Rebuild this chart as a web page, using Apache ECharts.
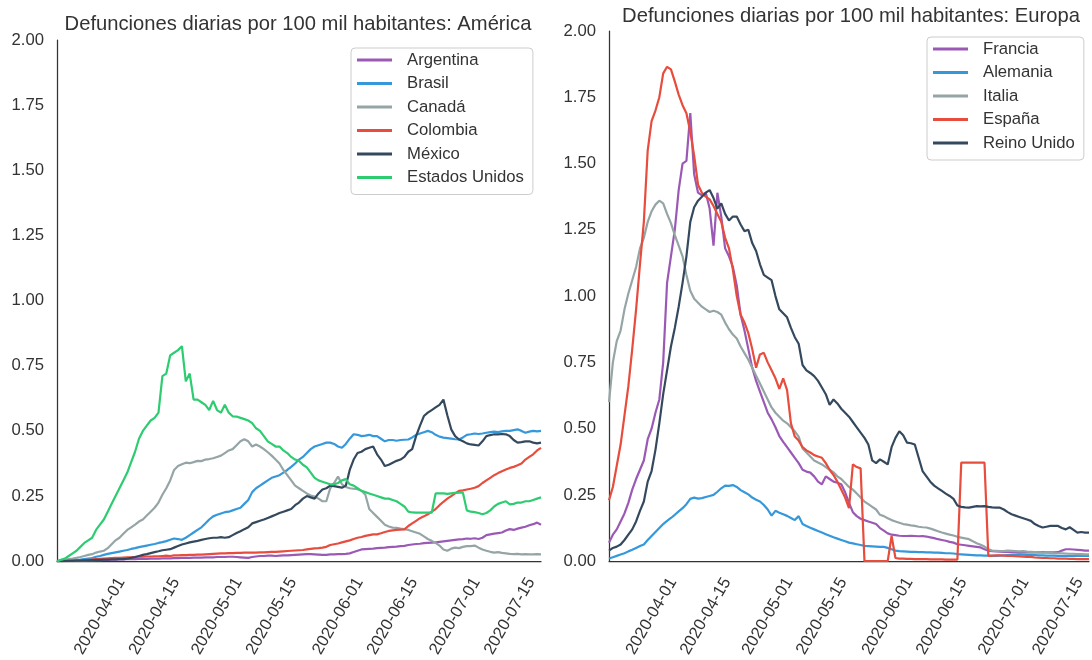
<!DOCTYPE html>
<html>
<head>
<meta charset="utf-8">
<script src="https://cdn.jsdelivr.net/npm/echarts@6/dist/echarts.min.js"></script>
<style>
html,body{margin:0;padding:0;background:#fff;}
#c{width:1092px;height:660px;}
</style>
</head>
<body>
<div id="c"></div>
<script>
// Daily dates 2020-03-21 .. 2020-07-23 (category labels)
const dates = [];
for (let t = Date.UTC(2020, 2, 21); t <= Date.UTC(2020, 6, 23); t += 86400000) {
  dates.push(new Date(t).toISOString().slice(0, 10));
}
const tickLabels = ['2020-04-01','2020-04-15','2020-05-01','2020-05-15','2020-06-01','2020-06-15','2020-07-01','2020-07-15'];
const yTicks = [0, 0.25, 0.5, 0.75, 1, 1.25, 1.5, 1.75, 2];

// América
const argentina = [
0,0,0.001,0.001,0.001,0.002,0.002,0.002,0.003,0.003,
0.004,0.004,0.005,0.005,0.006,0.006,0.007,0.007,0.008,
0.008,0.008,0.009,0.009,0.009,0.01,0.01,0.01,0.011,0.011,
0.011,0.012,0.012,0.013,0.013,0.013,0.014,0.014,0.014,
0.015,0.015,0.015,0.016,0.016,0.016,0.017,0.017,0.016,0.015,
0.014,0.013,0.016,0.018,0.02,0.02,0.021,0.021,0.02,
0.021,0.022,0.022,0.023,0.024,0.025,0.026,0.027,0.027,0.026,
0.025,0.024,0.024,0.026,0.026,0.027,0.027,0.028,0.03,
0.035,0.04,0.045,0.046,0.047,0.048,0.05,0.051,0.052,0.054,
0.055,0.056,0.058,0.059,0.062,0.064,0.066,0.067,0.069,
0.07,0.071,0.072,0.074,0.076,0.078,0.08,0.082,0.084,0.085,
0.087,0.086,0.088,0.085,0.09,0.10,0.103,0.106,0.108,
0.11,0.118,0.123,0.12,0.125,0.129,0.132,0.138,0.142,0.148,0.14];
const brasil = [
0,0.001,0.002,0.003,0.004,0.005,0.006,0.008,0.01,0.012,
0.017,0.02,0.024,0.028,0.031,0.034,0.037,0.04,0.043,
0.047,0.05,0.054,0.057,0.06,0.063,0.066,0.07,0.073,0.077,
0.082,0.087,0.085,0.082,0.09,0.10,0.11,0.12,0.13,
0.145,0.16,0.172,0.178,0.183,0.188,0.19,0.195,0.20,0.205,
0.22,0.235,0.265,0.28,0.29,0.30,0.31,0.32,0.325,
0.33,0.34,0.35,0.362,0.375,0.39,0.40,0.415,0.43,0.44,
0.445,0.45,0.455,0.455,0.45,0.44,0.435,0.45,0.47,
0.487,0.485,0.48,0.482,0.485,0.48,0.48,0.47,0.46,0.465,
0.465,0.462,0.465,0.466,0.467,0.475,0.485,0.49,0.495,
0.50,0.495,0.485,0.478,0.474,0.472,0.47,0.468,0.467,0.475,
0.485,0.487,0.49,0.488,0.49,0.493,0.495,0.497,0.495,
0.498,0.50,0.50,0.503,0.506,0.50,0.493,0.497,0.50,0.498,0.50];
const canada = [
0,0.003,0.005,0.008,0.01,0.013,0.016,0.02,0.024,0.027,
0.033,0.037,0.04,0.05,0.065,0.08,0.09,0.105,0.12,
0.13,0.14,0.152,0.16,0.175,0.19,0.205,0.225,0.255,0.28,
0.31,0.35,0.365,0.372,0.378,0.376,0.38,0.385,0.384,
0.39,0.392,0.395,0.40,0.405,0.415,0.425,0.43,0.445,0.46,
0.468,0.46,0.44,0.448,0.44,0.43,0.418,0.405,0.39,
0.375,0.35,0.33,0.31,0.29,0.28,0.27,0.26,0.252,0.248,
0.24,0.23,0.23,0.28,0.30,0.325,0.295,0.285,0.28,
0.278,0.276,0.27,0.255,0.2,0.185,0.17,0.155,0.14,0.133,
0.129,0.128,0.125,0.123,0.12,0.115,0.11,0.105,0.095,
0.085,0.078,0.07,0.06,0.045,0.04,0.048,0.052,0.05,0.055,
0.058,0.058,0.06,0.052,0.045,0.04,0.036,0.033,0.035,
0.032,0.03,0.028,0.027,0.028,0.026,0.027,0.026,0.026,0.027,0.026];
const colombia = [
0,0.001,0.001,0.002,0.002,0.003,0.003,0.004,0.005,0.006,
0.008,0.009,0.01,0.011,0.012,0.013,0.013,0.014,0.015,
0.015,0.016,0.017,0.017,0.018,0.018,0.019,0.019,0.02,0.021,
0.02,0.022,0.022,0.023,0.023,0.024,0.024,0.025,0.025,
0.026,0.027,0.028,0.029,0.03,0.03,0.031,0.031,0.032,0.032,
0.033,0.033,0.033,0.033,0.034,0.034,0.035,0.036,0.036,
0.037,0.038,0.039,0.04,0.041,0.042,0.043,0.045,0.047,0.049,
0.05,0.052,0.055,0.062,0.065,0.068,0.072,0.076,0.08,
0.085,0.09,0.093,0.097,0.10,0.103,0.103,0.107,0.112,0.116,
0.118,0.12,0.121,0.122,0.135,0.145,0.155,0.165,0.172,
0.18,0.19,0.20,0.215,0.228,0.24,0.25,0.26,0.27,0.272,
0.275,0.278,0.282,0.288,0.30,0.31,0.32,0.33,0.338,
0.345,0.352,0.358,0.362,0.368,0.375,0.39,0.40,0.41,0.425,0.435];
const mexico = [
0,0,0,0.001,0.001,0.002,0.002,0.003,0.003,0.004,
0.005,0.005,0.006,0.006,0.007,0.007,0.008,0.008,0.01,
0.013,0.016,0.02,0.024,0.027,0.031,0.035,0.038,0.042,0.044,
0.046,0.052,0.058,0.064,0.068,0.072,0.075,0.078,0.082,
0.085,0.088,0.09,0.09,0.092,0.09,0.092,0.10,0.108,0.115,
0.123,0.13,0.145,0.15,0.155,0.16,0.166,0.172,0.178,
0.185,0.19,0.195,0.20,0.215,0.225,0.24,0.25,0.245,0.24,
0.26,0.275,0.28,0.29,0.288,0.285,0.282,0.29,0.35,
0.39,0.415,0.42,0.43,0.435,0.44,0.41,0.39,0.365,0.37,
0.378,0.385,0.39,0.40,0.42,0.43,0.48,0.52,0.557,
0.57,0.58,0.59,0.60,0.62,0.56,0.506,0.48,0.467,0.46,
0.452,0.448,0.446,0.444,0.46,0.48,0.484,0.487,0.487,
0.488,0.487,0.48,0.465,0.455,0.457,0.46,0.46,0.455,0.452,0.455];
const estadosUnidos = [
0,0.005,0.01,0.02,0.03,0.04,0.055,0.07,0.08,0.09,
0.12,0.14,0.16,0.19,0.22,0.25,0.28,0.31,0.34,
0.38,0.42,0.47,0.50,0.52,0.54,0.55,0.57,0.71,0.72,
0.79,0.80,0.81,0.825,0.69,0.72,0.62,0.62,0.61,
0.60,0.58,0.615,0.58,0.57,0.60,0.57,0.556,0.555,0.55,
0.545,0.54,0.53,0.51,0.50,0.48,0.46,0.45,0.44,
0.44,0.425,0.415,0.40,0.39,0.385,0.37,0.36,0.34,0.32,
0.31,0.305,0.30,0.295,0.295,0.30,0.31,0.315,0.295,
0.29,0.28,0.27,0.265,0.26,0.255,0.25,0.245,0.24,0.24,
0.235,0.23,0.22,0.21,0.19,0.187,0.186,0.186,0.186,
0.186,0.186,0.26,0.26,0.26,0.258,0.26,0.262,0.263,0.263,
0.195,0.19,0.188,0.185,0.18,0.185,0.195,0.21,0.22,
0.225,0.23,0.218,0.22,0.225,0.225,0.23,0.23,0.235,0.24,0.245];

// Europa
const francia = [
0.07,0.10,0.12,0.15,0.18,0.22,0.27,0.31,0.345,0.38,
0.46,0.50,0.56,0.61,0.75,1.05,1.15,1.25,1.40,
1.50,1.51,1.69,1.46,1.39,1.38,1.39,1.33,1.19,1.39,
1.30,1.18,1.15,1.11,1.04,0.93,0.87,0.80,0.73,
0.68,0.64,0.60,0.56,0.535,0.505,0.472,0.45,0.43,0.41,
0.39,0.37,0.345,0.338,0.334,0.32,0.30,0.29,0.32,
0.31,0.30,0.296,0.29,0.26,0.22,0.185,0.17,0.16,0.155,
0.15,0.145,0.14,0.125,0.115,0.105,0.10,0.098,0.096,
0.095,0.095,0.096,0.095,0.094,0.095,0.093,0.09,0.087,0.083,
0.08,0.077,0.073,0.07,0.064,0.062,0.06,0.058,0.056,
0.054,0.052,0.045,0.04,0.038,0.037,0.036,0.035,0.035,0.034,
0.034,0.033,0.033,0.033,0.033,0.033,0.033,0.034,0.033,
0.033,0.033,0.034,0.04,0.045,0.045,0.044,0.043,0.042,0.04,0.04];
const alemania = [
0.01,0.015,0.02,0.025,0.03,0.037,0.043,0.05,0.057,0.063,
0.08,0.095,0.11,0.125,0.14,0.152,0.163,0.175,0.188,
0.20,0.215,0.235,0.24,0.236,0.238,0.242,0.246,0.25,0.262,
0.275,0.285,0.284,0.287,0.28,0.268,0.26,0.252,0.24,
0.232,0.225,0.212,0.195,0.172,0.19,0.183,0.177,0.171,0.163,
0.155,0.17,0.14,0.133,0.126,0.12,0.114,0.108,0.102,
0.096,0.09,0.085,0.08,0.075,0.07,0.067,0.064,0.061,0.058,
0.057,0.056,0.055,0.054,0.054,0.05,0.045,0.04,0.038,
0.037,0.036,0.035,0.035,0.034,0.034,0.033,0.033,0.032,0.032,
0.031,0.03,0.03,0.029,0.027,0.026,0.025,0.024,0.023,
0.022,0.022,0.021,0.021,0.02,0.02,0.021,0.022,0.023,0.024,
0.025,0.026,0.025,0.024,0.024,0.023,0.022,0.022,0.021,
0.021,0.021,0.02,0.02,0.02,0.02,0.02,0.02,0.02,0.02,0.02];
const italia = [
0.60,0.75,0.83,0.87,0.95,1.01,1.06,1.11,1.18,1.22,
1.28,1.32,1.345,1.36,1.35,1.31,1.275,1.23,1.19,
1.15,1.08,1.02,0.99,0.975,0.96,0.95,0.94,0.945,0.94,
0.93,0.90,0.875,0.855,0.84,0.81,0.785,0.76,0.73,
0.70,0.67,0.64,0.61,0.58,0.56,0.545,0.53,0.52,0.505,
0.49,0.47,0.425,0.41,0.395,0.38,0.372,0.365,0.355,
0.345,0.335,0.32,0.31,0.295,0.28,0.27,0.255,0.24,0.225,
0.215,0.205,0.195,0.175,0.17,0.162,0.155,0.15,0.145,
0.14,0.138,0.135,0.133,0.13,0.128,0.127,0.123,0.118,0.113,
0.108,0.104,0.10,0.097,0.092,0.089,0.086,0.083,0.075,
0.068,0.062,0.055,0.045,0.04,0.039,0.038,0.038,0.04,0.039,
0.038,0.037,0.038,0.036,0.035,0.034,0.033,0.032,0.032,
0.031,0.03,0.03,0.03,0.029,0.028,0.028,0.027,0.027,0.026,0.026];
const espana = [
0.23,0.28,0.36,0.44,0.55,0.66,0.80,0.95,1.12,1.28,
1.55,1.66,1.70,1.75,1.84,1.865,1.855,1.81,1.76,
1.72,1.69,1.62,1.53,1.42,1.39,1.375,1.365,1.34,1.31,
1.28,1.22,1.18,1.10,1.00,0.93,0.90,0.86,0.80,
0.73,0.78,0.786,0.75,0.72,0.69,0.65,0.69,0.645,0.52,
0.47,0.455,0.43,0.418,0.41,0.40,0.395,0.39,0.37,
0.345,0.325,0.30,0.27,0.24,0.20,0.365,0.355,0.35,0,
0,0,0,0,0,0,0.095,0.012,0.01,
0.01,0.009,0.009,0.008,0.008,0.008,0.008,0.007,0.007,0.007,
0.007,0.006,0.006,0.006,0.006,0.372,0.372,0.372,0.372,
0.372,0.372,0.372,0.02,0.021,0.022,0.022,0.021,0.02,0.02,
0.019,0.018,0.017,0.016,0.016,0.014,0.013,0.012,0.012,
0.011,0.011,0.01,0.01,0.01,0.009,0.009,0.008,0.008,0.008,0.008];
const reinoUnido = [
0.04,0.05,0.055,0.063,0.08,0.10,0.12,0.15,0.19,0.225,
0.30,0.34,0.42,0.52,0.63,0.72,0.81,0.88,0.96,
1.05,1.15,1.28,1.335,1.36,1.375,1.39,1.40,1.37,1.33,
1.35,1.31,1.285,1.30,1.30,1.27,1.245,1.25,1.20,
1.17,1.12,1.08,1.07,1.06,1.00,0.95,0.935,0.92,0.88,
0.845,0.82,0.74,0.72,0.71,0.698,0.68,0.655,0.63,
0.59,0.61,0.595,0.575,0.56,0.545,0.525,0.505,0.485,0.465,
0.44,0.38,0.37,0.384,0.375,0.365,0.43,0.465,0.49,
0.475,0.447,0.445,0.44,0.39,0.34,0.32,0.30,0.285,0.275,
0.265,0.255,0.246,0.235,0.21,0.205,0.203,0.202,0.205,
0.208,0.207,0.208,0.205,0.203,0.202,0.202,0.195,0.185,0.177,
0.172,0.167,0.162,0.157,0.152,0.14,0.133,0.127,0.13,
0.133,0.133,0.133,0.125,0.12,0.128,0.118,0.108,0.11,0.108,0.108];

const americaNames = ['Argentina','Brasil','Canadá','Colombia','México','Estados Unidos'];
const americaData = [argentina, brasil, canada, colombia, mexico, estadosUnidos];
const europaNames = ['Francia','Alemania','Italia','España','Reino Unido'];
const europaData = [francia, alemania, italia, espana, reinoUnido];
const palette = ['#9b59b6','#3498db','#95a5a6','#e74c3c','#34495e','#2ecc71'];

const FONT = '"Liberation Sans", Arial, sans-serif';
const TXT = '#333333';

function xAxis(gridIndex) {
  return {
    type: 'category', gridIndex, data: dates, boundaryGap: false,
    axisLine: { lineStyle: { color: '#333', width: 1.25 } },
    axisTick: { show: false },
    splitLine: { show: false },
    axisLabel: {
      interval: (i, v) => tickLabels.indexOf(v) >= 0,
      rotate: 60, align: 'center', verticalAlign: 'middle', margin: 55,
      fontFamily: FONT, fontSize: 16.7, color: TXT
    }
  };
}
function yAxis(gridIndex) {
  return {
    type: 'value', gridIndex, min: yTicks[0], max: yTicks[yTicks.length - 1], interval: 0.25,
    axisLine: { show: true, lineStyle: { color: '#333', width: 1.25 } },
    axisTick: { show: false },
    splitLine: { show: false },
    axisLabel: { margin: 13, fontFamily: FONT, fontSize: 16.7, color: TXT,
      formatter: v => v.toFixed(2) }
  };
}
function legend(names, left, top) {
  return {
    data: names, orient: 'vertical', left, top,
    icon: 'rect', itemWidth: 35, itemHeight: 3, itemGap: 3.5,
    padding: [2, 9, 7, 6],
    backgroundColor: 'rgba(255,255,255,0.8)',
    borderColor: '#cccccc', borderWidth: 1, borderRadius: 4,
    textStyle: { fontFamily: FONT, fontSize: 16.7, color: TXT, lineHeight: 20, padding: [0, 0, 0, 10] }
  };
}
const series = [];
americaNames.forEach((n, i) => series.push({
  name: n, type: 'line', xAxisIndex: 0, yAxisIndex: 0, data: americaData[i],
  symbol: 'none', lineStyle: { width: 2.2, color: palette[i] }, itemStyle: { color: palette[i] },
  animation: false
}));
europaNames.forEach((n, i) => series.push({
  name: n, type: 'line', xAxisIndex: 1, yAxisIndex: 1, data: europaData[i],
  symbol: 'none', lineStyle: { width: 2.2, color: palette[i] }, itemStyle: { color: palette[i] },
  animation: false
}));

const chart = echarts.init(document.getElementById('c'), null, { renderer: 'canvas' });
chart.setOption({
  backgroundColor: '#ffffff',
  animation: false,
  title: [
    { text: 'Defunciones diarias por 100 mil habitantes: América', left: 293, top: 9, textAlign: 'center',
      textStyle: { fontFamily: FONT, fontSize: 20.2, fontWeight: 'normal', color: TXT } },
    { text: 'Defunciones diarias por 100 mil habitantes: Europa', left: 846, top: 1, textAlign: 'center',
      textStyle: { fontFamily: FONT, fontSize: 20.2, fontWeight: 'normal', color: TXT } }
  ],
  legend: [legend(americaNames, 351, 48), legend(europaNames, 927, 37)],
  grid: [
    { left: 57, right: 551, top: 40, bottom: 98 },
    { left: 609, right: 3, top: 31, bottom: 98 }
  ],
  xAxis: [xAxis(0), xAxis(1)],
  yAxis: [yAxis(0), yAxis(1)],
  series
});
</script>
</body>
</html>
